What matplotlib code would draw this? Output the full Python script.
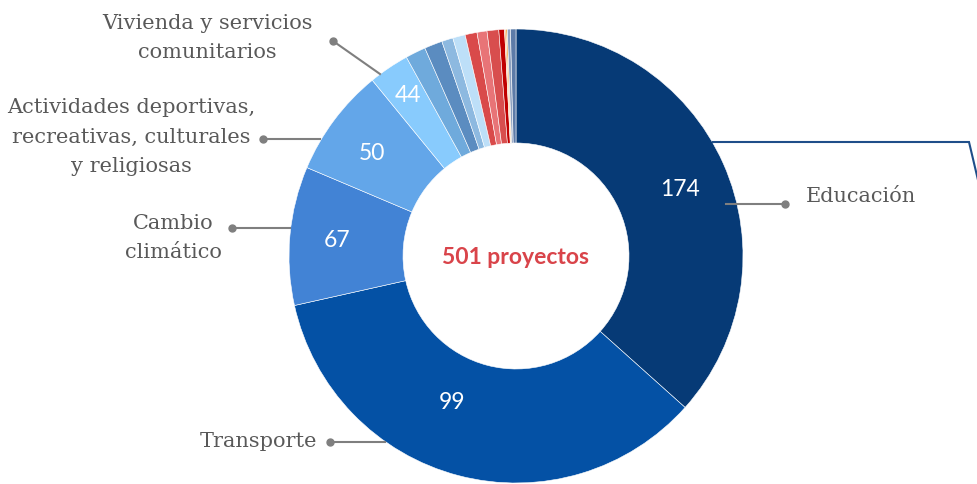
import matplotlib.pyplot as plt

# shown numbers on the ring
categories = ['Educación', 'Transporte', 'Cambio\nclimático',
              'Actividades deportivas,\nrecreativas, culturales\ny religiosas',
              'Vivienda y servicios\ncomunitarios']
shown_values = [174, 99, 67, 50, 44]
total_label = '501 proyectos'

slice_sizes = [131.8, 125.5, 35.5, 27.8, 10.4,
               5.2, 4.6, 2.9, 3.2, 3.05, 2.55, 3.0, 1.45, 0.35, 0.35, 0.8, 1.4]
slice_colors = ['#063a76', '#0451a5', '#4283d5', '#63a6e9', '#88cbfd',
                '#6faadc', '#5b8cc0', '#8db9e0', '#bddff8', '#d94a4a', '#e87477',
                '#d84e4e', '#c00000', '#f5b46e', '#f39a2a', '#8ca0c0', '#5d7ba8']

H = 485
W = 978

def Y(y):
    return H - y

fig = plt.figure(figsize=(W / 100, H / 100), dpi=100)
ax = fig.add_axes([0, 0, 1, 1])

cx, cy, r_out, r_in = 516, 257, 227, 113
ax.pie(slice_sizes, colors=slice_colors, startangle=90, counterclock=False,
       center=(cx, Y(cy)), radius=r_out, frame=True,
       wedgeprops=dict(width=r_out - r_in, edgecolor='white', linewidth=0.4))
ax.set_xlim(0, W)
ax.set_ylim(0, H)
ax.set_aspect('equal')
ax.axis('off')

# values in the slices
value_pos = [(680, 190), (452, 403), (337, 241), (372, 153), (408, 95)]
for v, (x, y) in zip(shown_values, value_pos):
    ax.text(x, Y(y), str(v), color='white', fontsize=16.5, family='Lato',
            ha='center', va='center')

ax.text(cx, Y(cy), total_label, color='#d9444a', fontsize=16.5, family='Lato',
        fontweight='bold', ha='center', va='center')

# category labels with leader lines
lab_col = '#595959'
line_col = '#7f7f7f'
label_pos = [(861, 196), (258, 442), (173, 238), (131, 137), (207, 38)]
leaders = [((726, 205), (785, 205)), ((385, 443), (330, 443)),
           ((290, 229), (232, 229)), ((320, 140), (263, 140)),
           ((380, 75), (333, 42))]
for lab, (x, y), (p0, p1) in zip(categories, label_pos, leaders):
    ax.text(x, Y(y), lab, color=lab_col, fontsize=15, family='DejaVu Serif',
            ha='center', va='center', linespacing=1.72)
    ax.plot([p0[0], p1[0]], [Y(p0[1]), Y(p1[1])], color=line_col, lw=1.5)
    ax.plot(p1[0], Y(p1[1]), 'o', color=line_col, ms=5)

# connector going off to the right
ax.plot([713, 969, 978], [Y(143), Y(143), Y(181)], color='#1f4e89', lw=1.5,
        solid_joinstyle='miter')

fig.savefig('out.png', dpi=100)
